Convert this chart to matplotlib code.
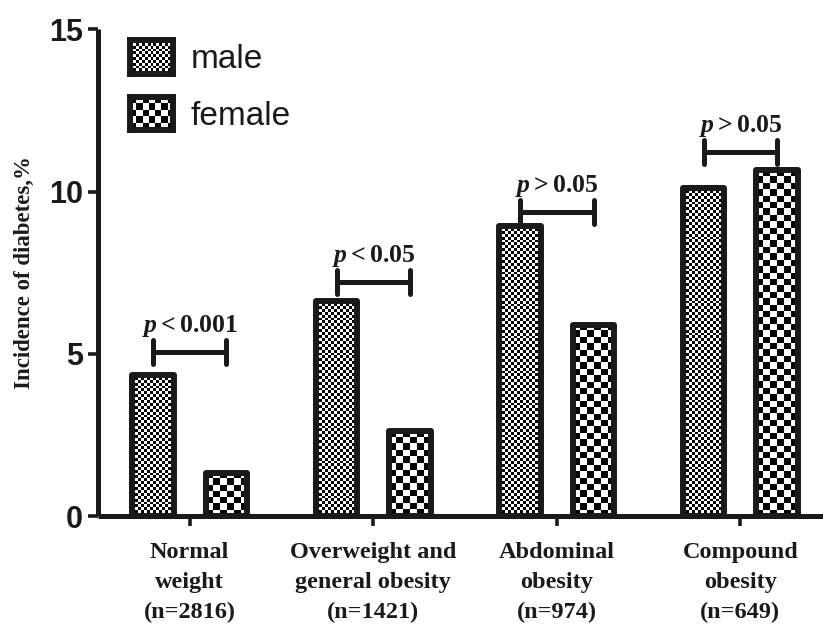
import numpy as np
import matplotlib.pyplot as plt

# incidence of diabetes (%) by obesity type and sex
groups = ['Normal\nweight\n(n=2816)',
          'Overweight and\ngeneral obesity\n(n=1421)',
          'Abdominal\nobesity\n(n=974)',
          'Compound\nobesity\n(n=649)']
male = [4.35, 6.64, 8.95, 10.12]
female = [1.33, 2.62, 5.90, 10.65]
p_text = [r'$\mathit{p}\mathrm{<}\mathbf{0.001}$',
          r'$\mathit{p}\mathrm{<}\mathbf{0.05}$',
          r'$\mathit{p > 0.05}$',
          r'$\mathit{p > 0.05}$']
bracket_y = [5.06, 7.22, 9.38, 11.23]

ink = '#1a1a1a'
plt.rcParams['mathtext.fontset'] = 'custom'
plt.rcParams['mathtext.rm'] = 'Liberation Serif:bold'
plt.rcParams['mathtext.bf'] = 'Liberation Serif:bold'
plt.rcParams['mathtext.it'] = 'Liberation Serif:italic:bold'


def checker(ax, x0, y0, w, h, cell):
    # fill a rectangle with a black/white checkerboard of roughly `cell` px squares
    p = ax.transData.transform([(x0, y0), (x0 + w, y0 + h)])
    wpx, hpx = np.abs(p[1] - p[0])
    nx = max(1, int(round(wpx / cell)))
    ny = max(1, int(round(hpx / cell)))
    board = np.add.outer(np.arange(ny), np.arange(nx)) % 2
    ax.imshow(board, cmap='gray', vmin=0, vmax=1, extent=(x0, x0 + w, y0, y0 + h),
              origin='lower', interpolation='nearest', aspect='auto', zorder=1)


fig = plt.figure(figsize=(8.23, 6.24), dpi=100)
ax = fig.add_axes([0.119, 0.173, 0.881, 0.780])
ax.set_xlim(-0.5, 3.45)
ax.set_ylim(0, 15)

x = np.arange(len(groups))
w = 0.225
off = 0.2

for xi, m, f in zip(x, male, female):
    checker(ax, xi - off - w / 2, 0, w, m, 2.9)
    checker(ax, xi + off - w / 2, 0, w, f, 6.4)

bars_m = ax.bar(x - off, male, w, facecolor='none', edgecolor=ink, linewidth=4.3, zorder=2)
bars_f = ax.bar(x + off, female, w, facecolor='none', edgecolor=ink, linewidth=4.3, zorder=2)
for b in list(bars_m) + list(bars_f):
    b.set_joinstyle('round')

# significance brackets
for xi, yb, txt in zip(x, bracket_y, p_text):
    x1, x2 = xi - off, xi + off
    ax.plot([x1, x2], [yb, yb], color=ink, lw=3.6, solid_capstyle='butt', zorder=3)
    for xx in (x1, x2):
        ax.plot([xx, xx], [yb - 0.37, yb + 0.37], color=ink, lw=3.6,
                solid_capstyle='round', zorder=3)
    ax.text((x1 + x2) / 2, yb + 0.6, txt, ha='center', va='baseline',
            fontsize=18.5, color=ink)

ax.set_xlim(-0.5, 3.45)
ax.set_ylim(0, 15)

for s in ['top', 'right']:
    ax.spines[s].set_visible(False)
for s in ['left', 'bottom']:
    ax.spines[s].set_linewidth(3.6)
    ax.spines[s].set_color(ink)
    ax.spines[s].set_capstyle('butt')

ax.set_yticks([0, 5, 10, 15])
ax.set_yticklabels(['0', '5', '10', '15'], fontfamily='Liberation Sans',
                   fontweight='bold', fontsize=22, color=ink)
ax.set_xticks(x)
ax.set_xticklabels(groups, fontfamily='Liberation Serif', fontweight='bold',
                   fontsize=17.5, color=ink, linespacing=1.55)
ax.tick_params(axis='y', length=7, width=2.6, color=ink, pad=4)
ax.tick_params(axis='x', length=7, width=2.6, color=ink, pad=12)

ax.set_ylabel('Incidence of diabetes,%', fontfamily='Liberation Serif',
              fontweight='bold', fontsize=16.5, color=ink, labelpad=10)

# legend swatches
for i, (name, cell) in enumerate([('male', 2.9), ('female', 6.4)]):
    top = 0.936 - i * 0.091
    lax = fig.add_axes([0.1575, top - 0.054, 0.0525, 0.054])
    lax.set_xlim(0, 1)
    lax.set_ylim(0, 1)
    checker(lax, 0, 0, 1, 1, cell)
    lax.set_xticks([])
    lax.set_yticks([])
    for s in lax.spines.values():
        s.set_linewidth(4.3)
        s.set_color(ink)
        s.set_joinstyle('round')
    fig.text(0.232, top - 0.031, name, fontfamily='Liberation Sans', fontsize=24,
             color=ink, va='center', ha='left')

fig.savefig('out.png', dpi=100)
